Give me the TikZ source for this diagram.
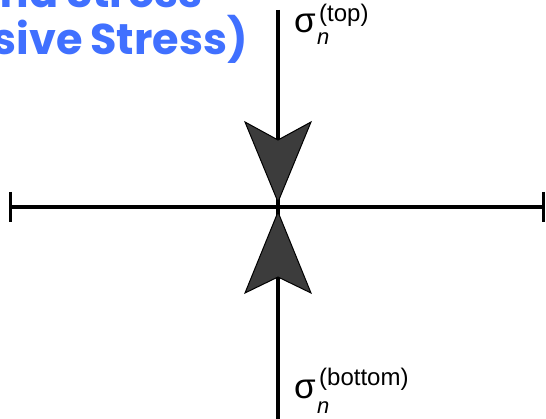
\documentclass[tikz,border=0pt]{standalone}
\usepackage{fontspec}
\setmainfont{Liberation Sans}
\newfontfamily\titlefont[WordSpace=0.85]{Poppins}
\definecolor{titleblue}{RGB}{64,112,255}
\definecolor{headgray}{RGB}{60,60,60}
\begin{document}
\begin{tikzpicture}[x=1pt,y=-1pt,
  axis/.style={line width=4.5pt, draw=black},
  endtick/.style={line width=3pt, draw=black},
  head/.style={fill=headgray, draw=black, line width=1pt, line join=miter},
  title/.style={font=\titlefont\bfseries\fontsize{43}{43}\selectfont, text=titleblue, inner sep=0pt},
  sig/.style={font=\fontsize{35}{35}\selectfont, inner sep=0pt},
  supl/.style={font=\fontsize{24}{24}\selectfont, inner sep=0pt},
  subl/.style={font=\itshape\fontsize{22}{22}\selectfont, inner sep=0pt}]
\useasboundingbox (0,0) rectangle (546,419);
\clip (0,0) rectangle (546,419);
% title (cut off by the frame)
\node[title, anchor=base east] (title1) at (203,8) {Sigma Stress};
\node[title, anchor=base east] (title2) at (248,55) {(Compressive Stress)};
% axes
\coordinate (vtop) at (278,10);
\coordinate (vbot) at (278,425);
\coordinate (hleft) at (10,207);
\coordinate (hright) at (543,207);
\draw[axis] (vtop) -- (vbot);
\draw[axis] (hleft) -- (hright);
\draw[endtick] ([yshift=15pt]hleft) -- ([yshift=-15pt]hleft);
\draw[endtick] ([yshift=15pt]hright) -- ([yshift=-15pt]hright);
% arrowheads
\filldraw[head] (278,202) -- (245,122) -- (278,140) -- (311,122) -- cycle;
\filldraw[head] (278,212) -- (245,293) -- (278,277) -- (311,293) -- cycle;
% labels
\node[sig, anchor=base west] (sigtop) at (294,33) {σ};
\node[supl, anchor=base west] (suptop) at (319,22) {(top)};
\node[subl, anchor=base west] (subtop) at (317,45) {n};
\node[sig, anchor=base west] (sigbot) at (294,398) {σ};
\node[supl, anchor=base west] (supbot) at (319,385) {(bottom)};
\node[subl, anchor=base west] (subbot) at (317,413) {n};
\end{tikzpicture}
\end{document}
